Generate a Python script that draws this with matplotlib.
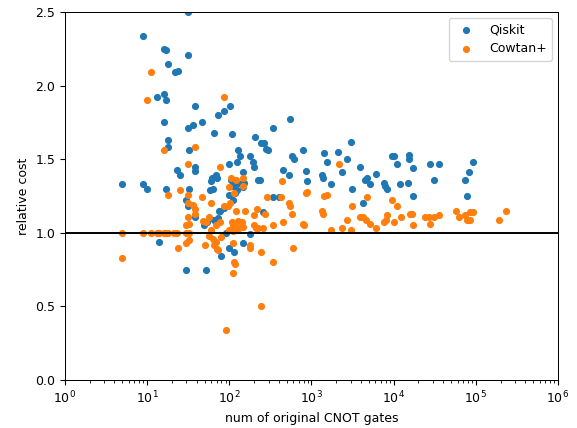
import matplotlib
matplotlib.use('Agg')
import matplotlib.pyplot as plt

# Qiskit: (num of original CNOT gates, relative cost)
qiskit_x = [5, 9, 9, 10, 14, 13, 16, 17, 16, 17, 18, 22, 24, 16, 18, 18, 17, 23, 25, 30,
            31, 32, 30, 31, 31, 31, 32, 38, 36, 46, 38, 38, 65, 73, 86, 102, 60, 62, 69, 71,
            58, 63, 75, 73, 65, 53, 49, 52, 91, 79, 99, 114, 147, 178, 108, 205, 243, 264, 279, 295,
            127, 135, 124, 178, 99, 194, 200, 147, 223, 105, 114, 111, 127, 147, 151, 124, 117, 99, 111, 77,
            86, 340, 402, 340, 547, 257, 236, 579, 612, 788, 450, 532, 857, 881, 1419, 1544, 2100, 3026, 2704, 2350,
            3894, 1342, 1380, 1727, 3111, 4477, 4732, 5150, 6093, 7624, 7839, 8285, 9540, 10090, 10970, 15350, 15400, 17180, 11940, 14930,
            17200, 4235, 27670, 35630, 30950, 92300, 82600, 73800, 78000, 38]
qiskit_y = [1.33, 2.34, 1.33, 1.30, 0.94, 1.92, 1.94, 1.90, 2.25, 2.24, 2.15, 2.09, 2.10, 1.75, 1.63, 1.58, 1.30, 1.43, 1.39, 1.22,
            1.18, 1.30, 0.75, 1.71, 2.21, 2.50, 1.56, 1.86, 1.73, 1.75, 1.45, 1.42, 1.68, 1.80, 1.83, 1.86, 1.35, 1.37, 1.39, 1.37,
            1.29, 1.30, 1.15, 1.10, 1.09, 1.07, 1.05, 0.75, 1.00, 0.84, 0.90, 0.87, 0.93, 0.99, 1.67, 1.65, 1.61, 1.61, 1.57, 1.56,
            1.56, 1.52, 1.48, 1.52, 1.47, 1.48, 1.45, 1.41, 1.36, 1.36, 1.36, 1.32, 1.34, 1.31, 1.34, 1.29, 1.27, 1.26, 1.22, 1.15,
            1.17, 1.24, 1.24, 1.71, 1.77, 1.14, 1.36, 1.52, 1.50, 1.56, 1.43, 1.39, 1.42, 1.35, 1.54, 1.48, 1.55, 1.62, 1.50, 1.41,
            1.45, 1.39, 1.37, 1.33, 1.30, 1.36, 1.37, 1.33, 1.40, 1.34, 1.32, 1.30, 1.52, 1.52, 1.47, 1.53, 1.50, 1.44, 1.33, 1.34,
            1.25, 1.20, 1.47, 1.47, 1.36, 1.48, 1.41, 1.36, 1.25, 1.11]

# Cowtan+
cowtan_x = [5, 5, 9, 11, 13, 14, 16, 17, 18, 21, 23, 30, 32, 11, 10, 16, 31, 18, 25, 31,
            31, 36, 38, 38, 31, 30, 24, 30, 38, 46, 60, 77, 86, 105, 120, 147, 147, 99, 114, 287,
            86, 95, 102, 120, 155, 217, 272, 200, 57, 48, 52, 32, 69, 77, 108, 127, 143, 147, 111, 131,
            200, 211, 223, 257, 340, 450, 788, 800, 425, 532, 547, 579, 437, 881, 99, 124, 111, 60, 57, 63,
            69, 79, 71, 72, 51, 111, 178, 180, 243, 596, 340, 114, 117, 111, 243, 91, 2160, 857, 1419, 1544,
            4732, 3111, 1342, 1380, 3894, 4235, 4603, 2704, 5150, 9540, 10970, 15800, 16710, 8285, 7624, 8059, 10090, 12280, 24050, 26910,
            1727, 2350, 3026, 6093, 17180, 27670, 30950, 35630, 57300, 62350, 73800, 78000, 84900, 84900, 92300, 191400, 232800, 32, 65]
cowtan_y = [1.00, 0.83, 1.00, 1.00, 1.00, 1.00, 1.00, 1.00, 1.00, 1.00, 1.00, 1.00, 1.00, 2.09, 1.90, 1.56, 1.47, 1.26, 1.29, 1.26,
            1.20, 1.19, 1.16, 1.13, 1.11, 1.05, 0.90, 0.93, 1.58, 1.24, 1.20, 1.45, 1.92, 1.37, 1.36, 1.37, 1.32, 1.31, 1.27, 1.24,
            1.18, 1.18, 1.20, 1.15, 1.15, 1.16, 1.13, 1.12, 1.11, 1.08, 1.07, 1.06, 1.05, 1.07, 1.07, 1.08, 1.07, 1.04, 1.05, 1.03,
            1.05, 1.03, 1.03, 1.03, 1.05, 1.07, 1.06, 1.05, 1.24, 1.20, 1.18, 1.13, 1.35, 1.28, 1.02, 1.03, 1.01, 1.02, 0.98, 0.96,
            0.94, 0.97, 0.89, 0.88, 0.92, 0.93, 0.92, 0.90, 0.87, 0.90, 0.80, 0.80, 0.79, 0.73, 0.50, 0.34, 1.47, 1.27, 1.25, 1.26,
            1.24, 1.18, 1.15, 1.13, 1.11, 1.11, 1.09, 1.09, 1.06, 1.22, 1.18, 1.13, 1.13, 1.12, 1.07, 1.09, 1.07, 1.11, 1.11, 1.11,
            1.02, 1.03, 1.02, 1.03, 1.05, 1.06, 1.11, 1.12, 1.15, 1.11, 1.12, 1.09, 1.09, 1.14, 1.14, 1.09, 1.15, 0.95, 0.92]

plt.rcParams['font.size'] = 9
plt.rcParams['axes.linewidth'] = 0.72

fig, ax = plt.subplots(figsize=(5.77, 4.28), dpi=100)
fig.subplots_adjust(left=65 / 577, right=558 / 577, top=1 - 12 / 428, bottom=1 - 380 / 428)

ax.scatter(qiskit_x, qiskit_y, s=17, color='C0', label='Qiskit', zorder=2)
ax.scatter(cowtan_x, cowtan_y, s=17, color='C1', label='Cowtan+', zorder=2)
ax.axhline(1.0, color='black', lw=1.4, zorder=3)

ax.set_xscale('log')
ax.set_xlim(1, 1e6)
ax.set_ylim(0, 2.5)
ax.set_xlabel('num of original CNOT gates')
ax.set_ylabel('relative cost')
ax.legend(loc='upper right')

fig.savefig('out.png', dpi=100)
